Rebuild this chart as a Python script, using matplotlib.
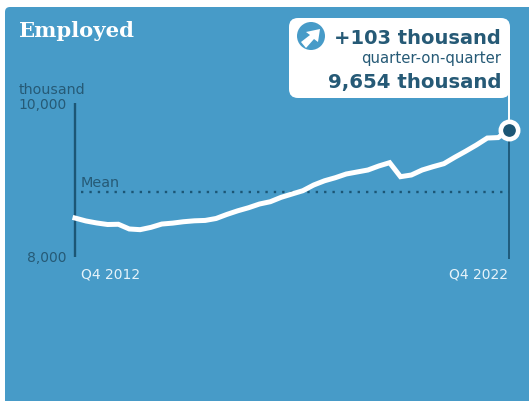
#!/usr/bin/env python

import matplotlib
matplotlib.use("Agg")
import matplotlib.pyplot as plt
from matplotlib.patches import FancyBboxPatch, Circle, Polygon

# employed persons, thousand, quarterly Q4 2012 - Q4 2022
quarters = list(range(41))
employed = [8506, 8468, 8442, 8422, 8425, 8364, 8355, 8385, 8428, 8440,
            8458, 8470, 8475, 8500, 8553, 8600, 8640, 8688, 8718, 8775,
            8818, 8861, 8935, 8990, 9030, 9078, 9104, 9130, 9182, 9225,
            9043, 9065, 9130, 9173, 9212, 9295, 9373, 9455, 9545, 9551,
            9654]
mean_value = 8848
y_ticks = [8000, 10000]
y_tick_labels = ["8,000", "10,000"]
x_labels = ["Q4 2012", "Q4 2022"]

BLUE = "#479bc8"
DARK = "#1c5675"
TEXT = "#265a76"
WHITE = "#ffffff"
W, H = 529, 401

fig = plt.figure(figsize=(W / 100, H / 100), dpi=100, facecolor="white")

# overlay in pixel coords for the panel, callout and icon
bg = fig.add_axes([0, 0, 1, 1])
bg.set_xlim(0, W)
bg.set_ylim(H, 0)
bg.axis("off")
bg.add_patch(FancyBboxPatch((5, 7), 600, 500, boxstyle="round,pad=0,rounding_size=5",
                            fc=BLUE, ec="none"))

# chart area, x and y scale come from the data
ax = fig.add_axes([75 / W, 1 - 257 / H, (509 - 75) / W, 154 / H])
ax.patch.set_alpha(0)
ax.set_xlim(0, 40)
ax.set_ylim(y_ticks[0], y_ticks[1])
for s in ax.spines.values():
    s.set_visible(False)
ax.set_xticks([])
ax.set_yticks([])

ax.plot([0, 0], y_ticks, color=DARK, lw=1.7, solid_capstyle="butt", clip_on=False)
ax.plot([40, 40], [7970, employed[-1]], color=DARK, lw=1.3, solid_capstyle="butt", clip_on=False)
ax.plot([0.55, 40], [mean_value, mean_value], color=DARK, lw=1.7, ls=(0, (1, 2.55)), clip_on=False)
ax.plot(quarters, employed, color=WHITE, lw=3.6, solid_joinstyle="miter", clip_on=False, zorder=3)

# end marker
ax.plot([40, 40], [employed[-1], 10400], color=WHITE, lw=1.4, clip_on=False, zorder=3)
ax.plot(quarters[-1], employed[-1], "o", ms=12.5, mfc=DARK, mec=WHITE, mew=3.3, clip_on=False, zorder=4)

# labels
fig.text(19 / W, 1 - 37 / H, "Employed", color=WHITE, fontsize=15.2, family="DejaVu Serif",
         weight="bold", ha="left", va="baseline")
fig.text(19 / W, 1 - 94 / H, "thousand", color=TEXT, fontsize=10.3, ha="left", va="baseline")
fig.text(67 / W, 1 - 109 / H, y_tick_labels[1], color=TEXT, fontsize=10, ha="right", va="baseline")
fig.text(67 / W, 1 - 262 / H, y_tick_labels[0], color=TEXT, fontsize=10, ha="right", va="baseline")
fig.text(81 / W, 1 - 187 / H, "Mean", color=TEXT, fontsize=10.4, ha="left", va="baseline")
fig.text(81 / W, 1 - 278 / H, x_labels[0], color="#e6f3fa", fontsize=10, ha="left", va="baseline")
fig.text(508 / W, 1 - 278 / H, x_labels[1], color="#e6f3fa", fontsize=10, ha="right", va="baseline")

# callout
box = fig.add_axes([0, 0, 1, 1])
box.set_xlim(0, W)
box.set_ylim(H, 0)
box.axis("off")
box.add_patch(FancyBboxPatch((289, 18), 221, 80, boxstyle="round,pad=0,rounding_size=9",
                             fc=WHITE, ec="none"))
box.add_patch(Circle((311, 36), 14, fc=BLUE, ec="none"))
box.add_patch(Polygon([(301, 42), (310, 35), (306, 32), (320, 29), (318, 42), (314, 39), (306, 48)],
                      fc=WHITE, ec="none"))
box.text(501, 43.5, "+103 thousand", color=TEXT, fontsize=14, weight="bold", ha="right", va="baseline")
box.text(501, 62.5, "quarter-on-quarter", color=TEXT, fontsize=10.7, ha="right", va="baseline")
box.text(501, 88, "9,654 thousand", color=TEXT, fontsize=14.2, weight="bold", ha="right", va="baseline")

fig.savefig("out.png", dpi=100)
